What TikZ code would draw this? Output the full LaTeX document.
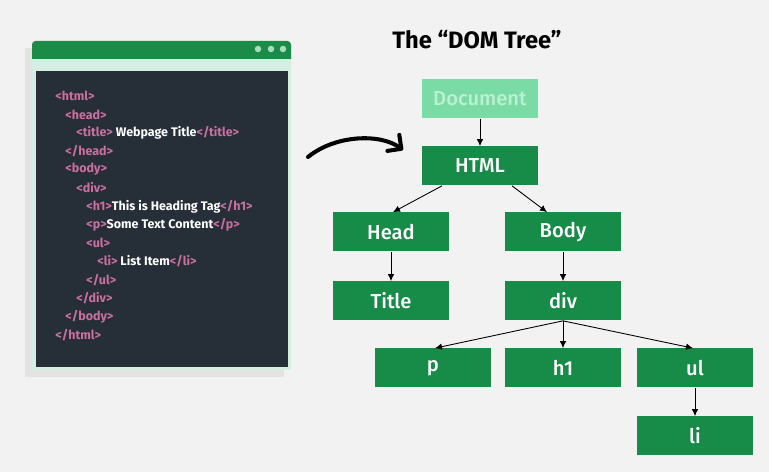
\documentclass[tikz,border=0pt]{standalone}
\usepackage{fontspec}
\setmainfont{Fira Sans}
\newfontfamily\medfont{Fira Sans Medium}
\usepackage{tikz}
\usetikzlibrary{arrows.meta, calc}
\usepackage{xcolor}

\definecolor{pagegray}{HTML}{F2F2F2}
\definecolor{shadowgray}{HTML}{E3E3E3}
\definecolor{barGreen}{HTML}{1A8C47}
\definecolor{dotGreen}{HTML}{A3DDB9}
\definecolor{mintframe}{HTML}{D4EFE2}
\definecolor{codebg}{HTML}{262F38}
\definecolor{tagpink}{HTML}{CB6EA2}
\definecolor{domgreen}{HTML}{178C48}
\definecolor{docgreen}{HTML}{7BDBA5}
\definecolor{doctext}{HTML}{BDF0D3}

\newcommand{\htag}[1]{\textcolor{tagpink}{#1}}

\begin{document}
\begin{tikzpicture}[x=0.02cm, y=-0.02cm,
        treenode/.style={rectangle, fill=domgreen, text=white, minimum width=2.34cm, minimum height=0.78cm, inner sep=0pt, font=\medfont\fontsize{11.5}{13}\selectfont},
        docnode/.style={treenode, fill=docgreen, text=doctext},
        codeline/.style={anchor=west, inner sep=0pt, text=white, font=\fontsize{7.1}{8.5}\selectfont\bfseries},
        line/.style={draw=black, -{Latex[length=1.4mm, width=1.3mm]}, line width=0.5pt}
    ]
        % Fondo
        \fill [pagegray] (0,0) rectangle (769,472);

        % Ventana del editor
        \fill [shadowgray] (25,48) rectangle (284,377);
        \fill [mintframe] (32,59) rectangle (291,370);
        \fill [barGreen] (32,59) [rounded corners=2pt] -- (32,41) -- (291,41) [sharp corners] -- (291,59) -- cycle;
        \fill [dotGreen] (258,49) circle (0.065cm);
        \fill [dotGreen] (271,49) circle (0.065cm);
        \fill [dotGreen] (283,49) circle (0.065cm);
        \fill [codebg] (36,71) rectangle (288,367);

        % Codigo HTML
        \node [codeline] (c1) at (55,96) {\htag{<html>}};
        \node [codeline] (c2) at (65,114.4) {\htag{<head>}};
        \node [codeline] (c3) at (76,132.8) {\htag{<title>} Webpage Title\htag{</title>}};
        \node [codeline] (c4) at (65,151.2) {\htag{</head>}};
        \node [codeline] (c5) at (65,169.6) {\htag{<body>}};
        \node [codeline] (c6) at (76,188) {\htag{<div>}};
        \node [codeline] (c7) at (86,206.4) {\htag{<h1>}This is Heading Tag\htag{</h1>}};
        \node [codeline] (c8) at (86,224.8) {\htag{<p>}Some Text Content\htag{</p>}};
        \node [codeline] (c9) at (86,243.2) {\htag{<ul>}};
        \node [codeline] (c10) at (97,261.6) {\htag{<li>} List Item\htag{</li>}};
        \node [codeline] (c11) at (86,280) {\htag{</ul>}};
        \node [codeline] (c12) at (76,298.4) {\htag{</div>}};
        \node [codeline] (c13) at (65,316.8) {\htag{</body>}};
        \node [codeline] (c14) at (55,335.2) {\htag{</html>}};

        % Titulo
        \node [font=\fontsize{13.5}{15}\selectfont\bfseries] (title) at (477,40) {The “DOM Tree”};

        % Arbol DOM
        \node [docnode] (doc) at (480,99) {Document};
        \node [treenode] (html) at (480,166) {HTML};
        \node [treenode] (head) at (391,232) {Head};
        \node [treenode] (body) at (563,232) {Body};
        \node [treenode] (ttl) at (391,301) {Title};
        \node [treenode] (div) at (563,301) {div};
        \node [treenode] (p) at (433,368) {p};
        \node [treenode] (h1) at (563,368) {h1};
        \node [treenode] (ul) at (695,368) {ul};
        \node [treenode] (li) at (695,436) {li};

        % Conexiones
        \draw [line] (doc.south) -- (html.north);
        \draw [line] ($(html.south)+(-38,0)$) -- ($(head.north)+(2,0)$);
        \draw [line] ($(html.south)+(32,0)$) -- ($(body.north)+(-16,0)$);
        \draw [line] (head.south) -- (ttl.north);
        \draw [line] (body.south) -- (div.north);
        \draw [line] (div.south) -- ($(p.north)+(2,0)$);
        \draw [line] (div.south) -- (h1.north);
        \draw [line] (div.south) -- ($(ul.north)+(-2,0)$);
        \draw [line] (ul.south) -- (li.north);

        % Flecha curva del codigo al arbol
        \coordinate (cstart) at (308,157);
        \coordinate (cend) at (403,150);
        \draw [line width=2.3pt, line cap=round, -{Straight Barb[length=2mm, width=4mm, round]}] (cstart) .. controls (335,135) and (380,133) .. (cend);
    \end{tikzpicture}
\end{document}
